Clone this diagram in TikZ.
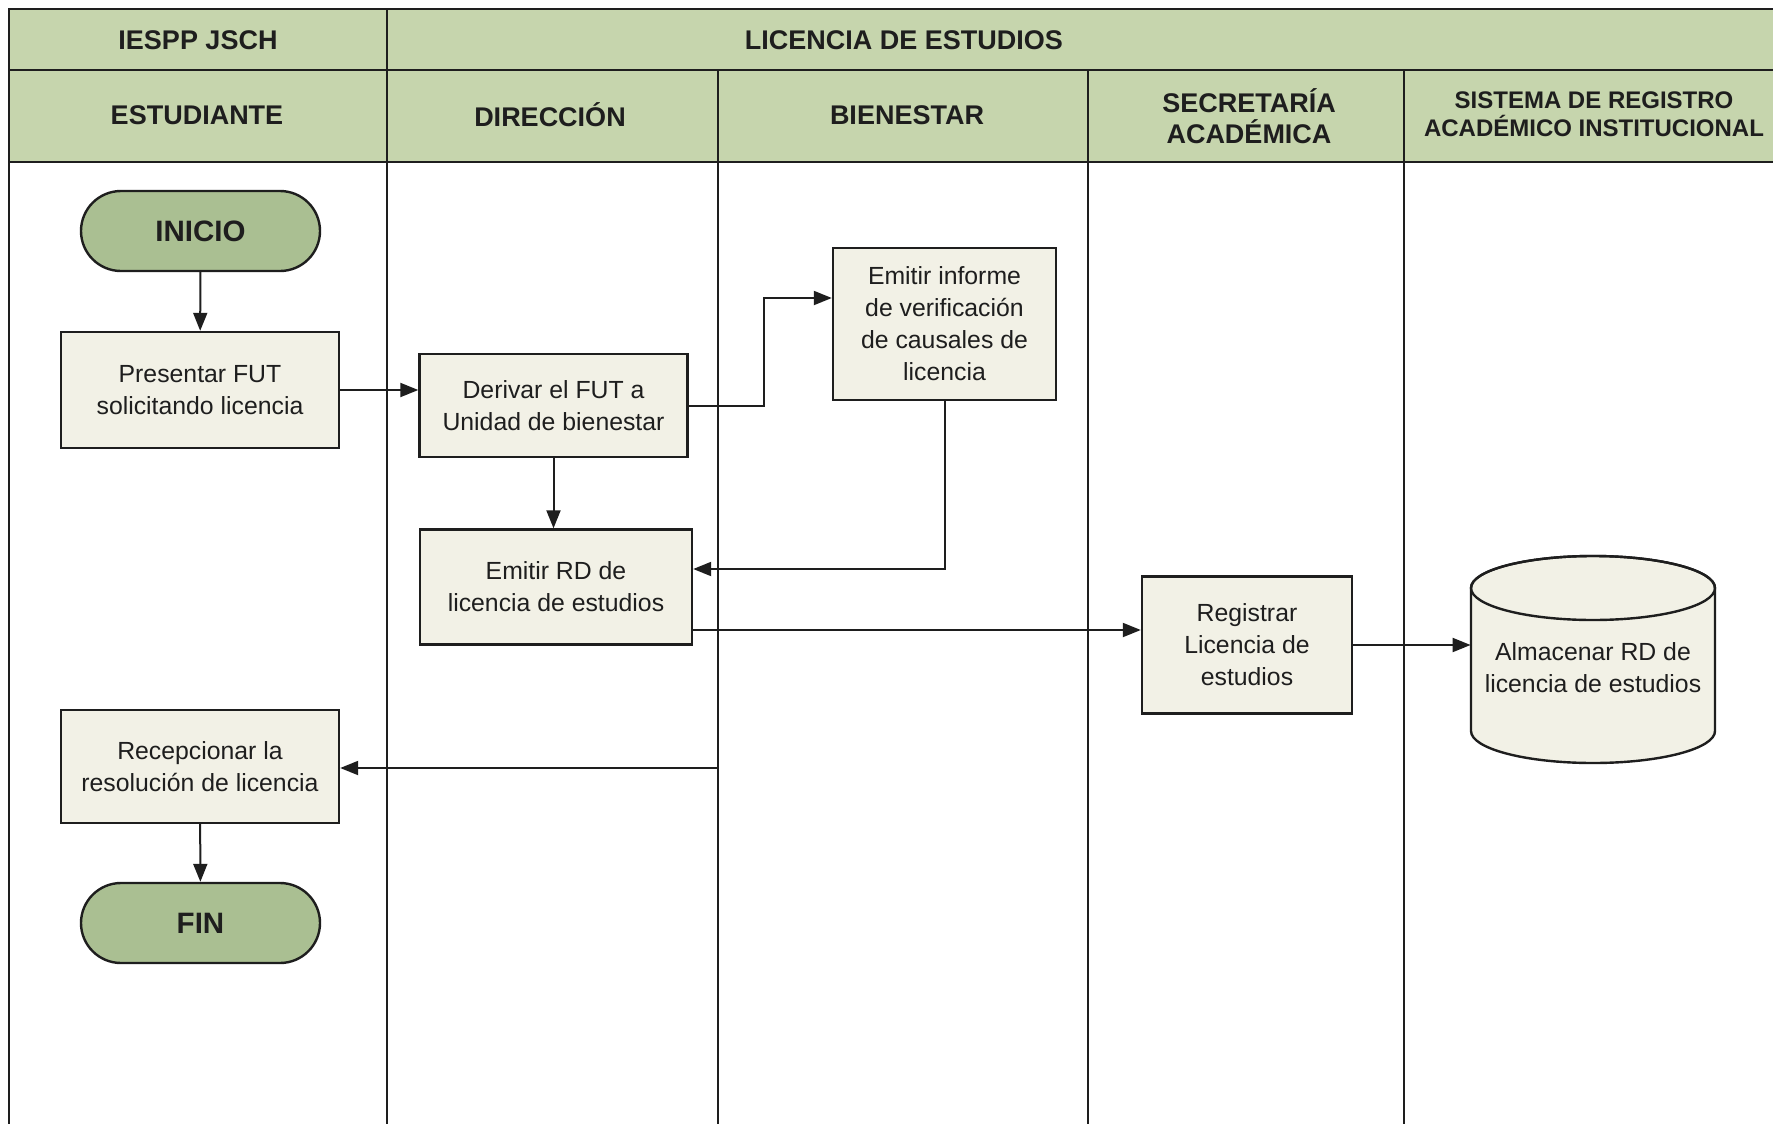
\documentclass[tikz,border=0pt]{standalone}
\usepackage{fontspec}
\setmainfont{Liberation Sans}
\usetikzlibrary{arrows.meta,calc}
\definecolor{hdrc}{RGB}{198,213,173}
\definecolor{termc}{RGB}{170,191,146}
\definecolor{boxf}{RGB}{242,241,230}
\definecolor{inkc}{RGB}{30,30,30}
\begin{document}
\begin{tikzpicture}[x=0.5pt,y=-0.5pt,
 lane/.style={draw=inkc,line width=1pt},
 proc/.style={draw=inkc,line width=1.2pt,fill=boxf,align=center,text=inkc,
   font=\fontsize{12.4}{16}\selectfont,inner sep=0pt},
 term/.style={draw=inkc,line width=1.2pt,fill=termc,rounded corners=20pt,text=inkc,
   font=\bfseries\fontsize{14.75}{17}\selectfont,minimum width=119.5pt,minimum height=40pt,inner sep=0pt},
 hd/.style={font=\bfseries\fontsize{13.5}{15.25}\selectfont,align=center,text=inkc},
 hds/.style={font=\bfseries\fontsize{12}{14}\selectfont,align=center,text=inkc},
 arr/.style={-{Triangle[length=9pt,width=7pt]},line width=1pt,draw=inkc}]
\useasboundingbox (0,0) rectangle (1773,1124);
\fill[white] (0,0) rectangle (1773,1124);
\fill[hdrc] (9,9) rectangle (1773,162);
% lanes
\draw[lane] (1773,9) -- (9,9) -- (9,1124);
\draw[lane] (9,70) -- (1773,70);
\draw[lane] (9,162) -- (1773,162);
\draw[lane] (387,9) -- (387,1124);
\draw[lane] (718,70) -- (718,1124);
\draw[lane] (1088,70) -- (1088,1124);
\draw[lane] (1404,70) -- (1404,1124);
% headers
\node[hd] (h1) at (198,40) {IESPP JSCH};
\node[hd] (h2) at (904,40) {LICENCIA DE ESTUDIOS};
\node[hd] (h3) at (197,115) {ESTUDIANTE};
\node[hd] (h4) at (550,115) {DIRECCIÓN};
\node[hd] (h5) at (907,115) {BIENESTAR};
\node[hd] (h6) at (1249,116) {SECRETARÍA\\ACADÉMICA};
\node[hds] (h7) at (1594,114) {SISTEMA DE REGISTRO\\ACADÉMICO INSTITUCIONAL};
% nodes
\node[term] (ini) at (200.5,231) {INICIO};
\node[proc,minimum width=139pt,minimum height=58pt] (pre) at (200,390) {Presentar FUT\\solicitando licencia};
\node[proc,minimum width=134pt,minimum height=51.5pt] (der) at (553.5,405.5) {Derivar el FUT a\\Unidad de bienestar};
\node[proc,minimum width=111.5pt,minimum height=76pt] (inf) at (944.5,324) {Emitir informe\\de verificación\\de causales de\\licencia};
\node[proc,minimum width=136pt,minimum height=57.5pt] (rd) at (556,587) {Emitir RD de\\licencia de estudios};
\node[proc,minimum width=105pt,minimum height=68.5pt] (reg) at (1247,645) {Registrar\\Licencia de\\estudios};
% cylinder
\path[draw=inkc,line width=1.2pt,fill=boxf] (1471,588) -- (1471,731) arc (180:360:61pt and 16pt) -- (1715,588) arc (0:180:61pt and 16pt) -- cycle;
\draw[inkc,line width=1.2pt] (1593,588) ellipse [x radius=61pt, y radius=16pt];
\node[minimum width=122pt,minimum height=103.5pt,inner sep=0pt] (alm) at (1593,660) {};
\node[align=center,text=inkc,font=\fontsize{12.4}{16}\selectfont] (almt) at (1593,668) {Almacenar RD de\\licencia de estudios};
\node[proc,minimum width=139pt,minimum height=56.5pt] (rec) at (200,766.5) {Recepcionar la\\resolución de licencia};
\node[term] (fin) at (200.5,923) {FIN};
% connectors
\draw[arr] (ini) -- (pre);
\draw[arr] (pre.east) -- (pre.east -| der.west);
\draw[arr] (der.east) -- ($(der.east)+(75,0)$) |- ($(inf.west)+(0,-26)$);
\draw[arr] (der.south) -- (der.south |- rd.north);
\draw[arr] (inf.south) |- ($(rd.east)+(0,-18)$);
\coordinate (rdo) at ($(rd.east)+(0,43)$);
\draw[arr] (rdo) -- (rdo -| reg.west);
\draw[arr] (reg.east) -- (reg.east -| alm.west);
\coordinate (div) at (718,768);
\draw[arr] (div) -- (div -| rec.east);
\draw[arr] (rec) -- (fin);
\end{tikzpicture}
\end{document}
